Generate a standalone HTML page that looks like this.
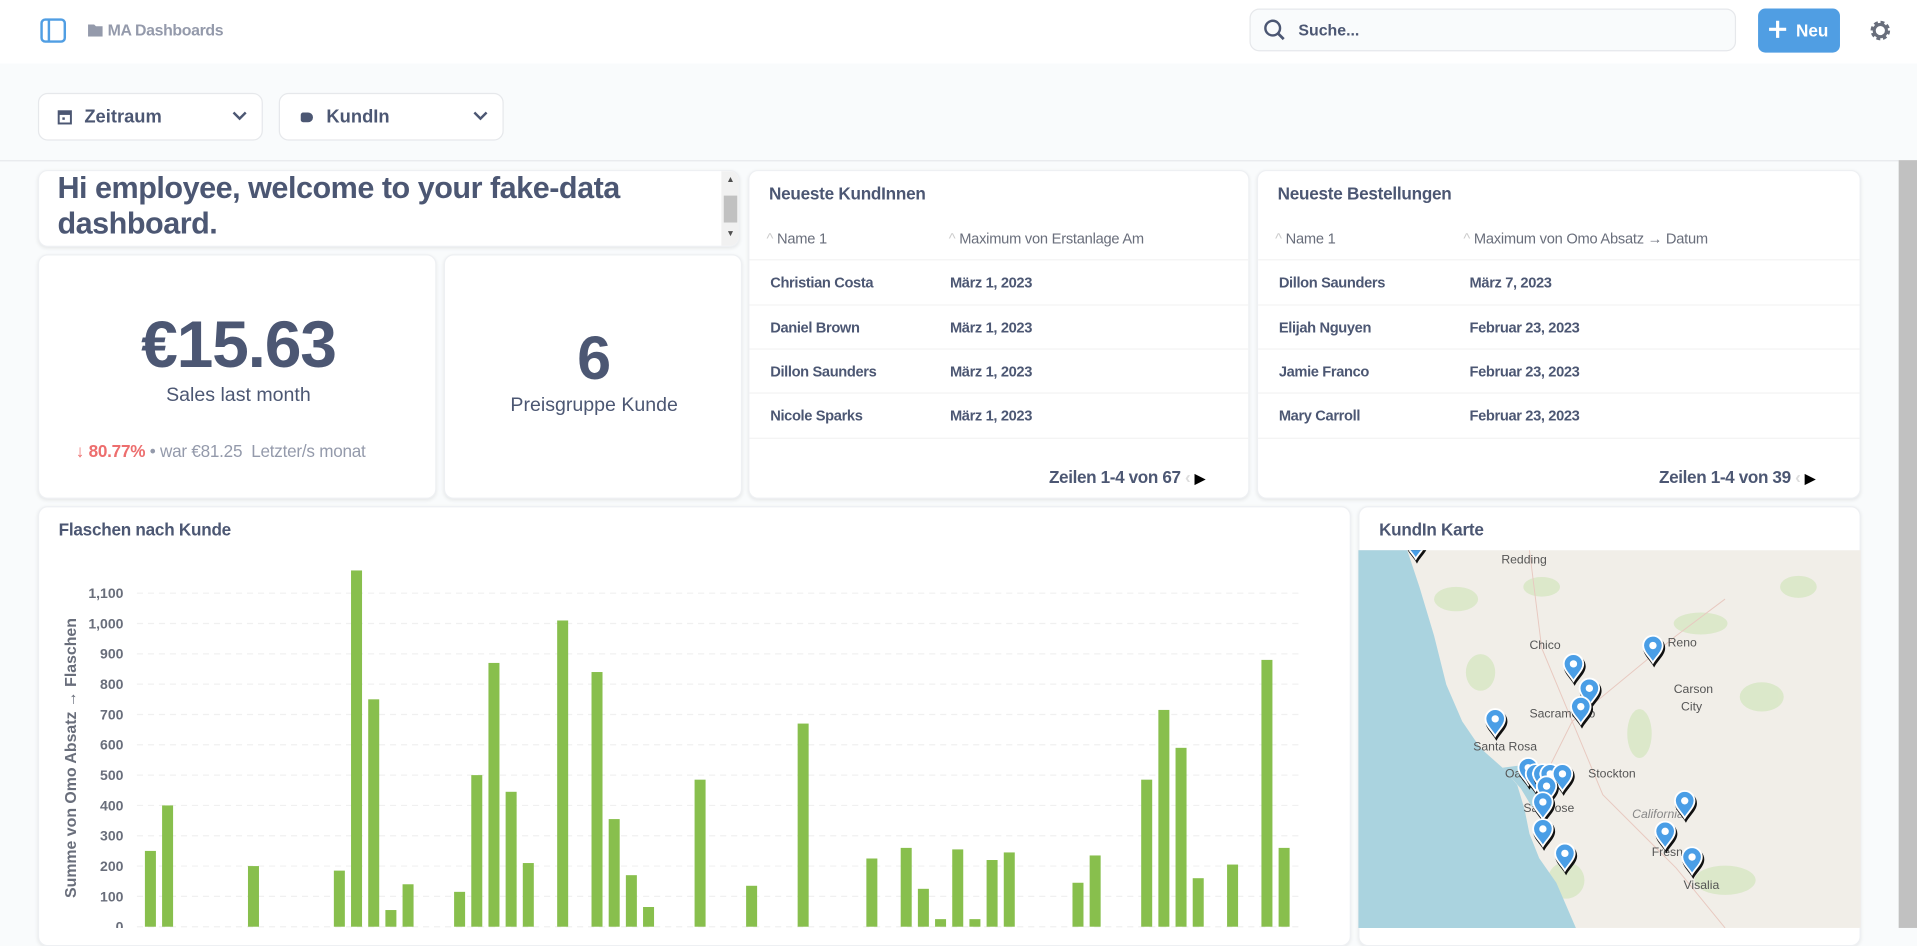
<!DOCTYPE html>
<html><head><meta charset="utf-8">
<style>
html,body{margin:0;padding:0;width:1917px;height:928px;overflow:hidden;background:#f9fbfc;font-family:"Liberation Sans",sans-serif;color:#4c5773}
#wrap{position:absolute;left:0;top:0;width:1568px;height:759px;transform:scale(1.22258);transform-origin:0 0;background:#f9fbfc}
.abs{position:absolute}
.card{position:absolute;background:#fff;border-radius:8px;box-shadow:0 1px 3px rgba(0,0,0,0.08);border:1px solid #eef0f3;box-sizing:border-box;overflow:hidden}
.ctitle{position:absolute;font-size:14px;font-weight:bold;color:#4c5773;letter-spacing:-0.2px}
.th{position:absolute;font-size:12px;color:#696e7b;letter-spacing:-0.2px}
.td{position:absolute;font-size:12px;color:#4c5773;font-weight:bold;letter-spacing:-0.3px}
.rowline{position:absolute;height:1px;background:#f3f3f3}
.filter{position:absolute;top:76px;width:184px;height:39px;background:#fff;border:1px solid #e6e8eb;border-radius:8px;box-sizing:border-box;font-size:15px;font-weight:bold;color:#4c5773}
.chev{position:absolute;left:158px;top:13px}
</style></head><body>
<div id="wrap">
<div class="abs" style="left:0;top:0;width:1568px;height:52px;background:#fff"></div>
<svg class="abs" style="left:32px;top:14px" width="24" height="22"><rect x="2" y="2" width="19" height="18" rx="3" fill="none" stroke="#509ee3" stroke-width="2"/><line x1="8" y1="2" x2="8" y2="20" stroke="#509ee3" stroke-width="2"/></svg>
<svg class="abs" style="left:72px;top:19px" width="12" height="11"><path d="M0 1h5l1.5 1.5H12V11H0z" fill="#949aab"/></svg>
<div class="abs" style="left:88px;top:17px;font-size:13px;color:#949aab;font-weight:bold;letter-spacing:-0.3px">MA Dashboards</div>
<div class="abs" style="left:1022px;top:7px;width:398px;height:35px;border:1px solid #e6e8eb;border-radius:8px;background:#f9fbfc;box-sizing:border-box"></div>
<svg class="abs" style="left:1033px;top:15px" width="20" height="20"><circle cx="8" cy="8" r="6" fill="none" stroke="#4c5773" stroke-width="2"/><line x1="12.5" y1="12.5" x2="17" y2="17" stroke="#4c5773" stroke-width="2.2"/></svg>
<div class="abs" style="left:1062px;top:17px;font-size:13px;color:#4c5773;font-weight:bold">Suche...</div>
<div class="abs" style="left:1438px;top:7px;width:67px;height:36px;background:#509ee3;border-radius:6px;color:#fff;font-size:14px;font-weight:bold;line-height:36px;box-sizing:border-box;padding-left:31px">Neu</div>
<svg class="abs" style="left:1446px;top:16px" width="16" height="16"><path d="M8 1v14M1 8h14" stroke="#fff" stroke-width="2.6"/></svg>
<svg class="abs" style="left:1528px;top:15px" width="20" height="20"><circle cx="10" cy="10" r="6.5" fill="none" stroke="#696e7b" stroke-width="3" stroke-dasharray="3,2.1"/><circle cx="10" cy="10" r="5" fill="none" stroke="#696e7b" stroke-width="2.5"/></svg>
<div class="filter" style="left:31px"><svg style="position:absolute;left:15px;top:12px" width="12" height="13"><rect x="1" y="2" width="10" height="10" fill="none" stroke="#4c5773" stroke-width="1.6"/><rect x="1" y="2" width="10" height="3" fill="#4c5773"/><rect x="4" y="7" width="2" height="2" fill="#4c5773"/></svg><span style="position:absolute;left:37px;top:10px">Zeitraum</span><svg class="chev" width="12" height="10"><path d="M1 2l5 5 5-5" fill="none" stroke="#4c5773" stroke-width="2"/></svg></div>
<div class="filter" style="left:228px"><span style="position:absolute;left:17px;top:15px;width:10px;height:8px;background:#4c5773;border-radius:2px 4px 4px 2px"></span><span style="position:absolute;left:38px;top:10px">KundIn</span><svg class="chev" width="12" height="10"><path d="M1 2l5 5 5-5" fill="none" stroke="#4c5773" stroke-width="2"/></svg></div>
<div class="abs" style="left:0;top:131px;width:1553px;height:1px;background:#e6e8eb"></div>
<div class="abs" style="left:1553px;top:131px;width:15px;height:628px;background:#c1c1c1"></div>

<div class="card" style="left:31px;top:139px;width:574px;height:63px">
 <div class="abs" style="left:15px;top:0px;font-size:25px;font-weight:bold;line-height:29px;color:#4c5773;width:560px;letter-spacing:-0.4px">Hi employee, welcome to your fake-data dashboard.</div>
 <div class="abs" style="left:558px;top:0;width:15px;height:63px;background:#f1f1f1"><div style="position:absolute;left:2px;top:20px;width:11px;height:22px;background:#c1c1c1"></div><div style="position:absolute;left:4px;top:4px;font-size:7px;color:#505050">▲</div><div style="position:absolute;left:4px;top:48px;font-size:7px;color:#505050">▼</div></div>
</div>
<div class="card" style="left:31px;top:208px;width:326px;height:200px">
 <div class="abs" style="left:0;width:326px;top:42px;text-align:center;font-size:54px;font-weight:bold;color:#4c5773;letter-spacing:-1px">€15.63</div>
 <div class="abs" style="left:0;width:326px;top:106px;text-align:center;font-size:16px">Sales last month</div>
 <div class="abs" style="left:30px;top:152px;font-size:14px;white-space:nowrap;letter-spacing:-0.2px"><span style="color:#ed6e6e;font-weight:bold">↓ 80.77%</span><span style="color:#949aab"> • war €81.25 &nbsp;Letzter/s monat</span></div>
</div>
<div class="card" style="left:363px;top:208px;width:244px;height:200px">
 <div class="abs" style="left:0;width:244px;top:55px;text-align:center;font-size:50px;font-weight:bold">6</div>
 <div class="abs" style="left:0;width:244px;top:114px;text-align:center;font-size:16px">Preisgruppe Kunde</div>
</div>
<div class="card" style="left:612px;top:139px;width:410px;height:269px">
 <div class="ctitle" style="left:16px;top:10px">Neueste KundInnen</div>
 <div class="th" style="left:14px;top:48px"><span style="color:#ccc">^</span> Name 1</div>
 <div class="th" style="left:163px;top:48px"><span style="color:#ccc">^</span> Maximum von Erstanlage Am</div>
 <div class="rowline" style="left:0;top:72px;width:410px"></div>
 <div class="td" style="left:17px;top:84px">Christian Costa</div><div class="td" style="left:164px;top:84px">März 1, 2023</div>
 <div class="rowline" style="left:0;top:109px;width:410px"></div>
 <div class="td" style="left:17px;top:121px">Daniel Brown</div><div class="td" style="left:164px;top:121px">März 1, 2023</div>
 <div class="rowline" style="left:0;top:145px;width:410px"></div>
 <div class="td" style="left:17px;top:157px">Dillon Saunders</div><div class="td" style="left:164px;top:157px">März 1, 2023</div>
 <div class="rowline" style="left:0;top:181px;width:410px"></div>
 <div class="td" style="left:17px;top:193px">Nicole Sparks</div><div class="td" style="left:164px;top:193px">März 1, 2023</div>
 <div class="rowline" style="left:0;top:218px;width:410px"></div>
 <div class="abs" style="left:245px;top:242px;font-size:14px;font-weight:bold;letter-spacing:-0.3px">Zeilen 1-4 von 67 <span style="color:#ddd">‹</span> <span style="color:#000;font-size:11px">▶</span></div>
</div>
<div class="card" style="left:1028px;top:139px;width:494px;height:269px">
 <div class="ctitle" style="left:16px;top:10px">Neueste Bestellungen</div>
 <div class="th" style="left:14px;top:48px"><span style="color:#ccc">^</span> Name 1</div>
 <div class="th" style="left:168px;top:48px"><span style="color:#ccc">^</span> Maximum von Omo Absatz → Datum</div>
 <div class="rowline" style="left:0;top:72px;width:494px"></div>
 <div class="td" style="left:17px;top:84px">Dillon Saunders</div><div class="td" style="left:173px;top:84px">März 7, 2023</div>
 <div class="rowline" style="left:0;top:109px;width:494px"></div>
 <div class="td" style="left:17px;top:121px">Elijah Nguyen</div><div class="td" style="left:173px;top:121px">Februar 23, 2023</div>
 <div class="rowline" style="left:0;top:145px;width:494px"></div>
 <div class="td" style="left:17px;top:157px">Jamie Franco</div><div class="td" style="left:173px;top:157px">Februar 23, 2023</div>
 <div class="rowline" style="left:0;top:181px;width:494px"></div>
 <div class="td" style="left:17px;top:193px">Mary Carroll</div><div class="td" style="left:173px;top:193px">Februar 23, 2023</div>
 <div class="rowline" style="left:0;top:218px;width:494px"></div>
 <div class="abs" style="left:328px;top:242px;font-size:14px;font-weight:bold;letter-spacing:-0.3px">Zeilen 1-4 von 39 <span style="color:#ddd">‹</span> <span style="color:#000;font-size:11px">▶</span></div>
</div>
<div class="card" style="left:31px;top:414px;width:1074px;height:360px">
 <div class="ctitle" style="left:16px;top:10px">Flaschen nach Kunde</div>
</div>
<svg class="abs" id="chart" style="left:0;top:0" width="1105" height="759"></svg>
<div class="card" style="left:1111px;top:414px;width:411px;height:360px">
 <div class="ctitle" style="left:16px;top:10px">KundIn Karte</div>
</div>
<svg class="abs" style="left:1111px;top:450px" width="411" height="309">
 <rect width="411" height="309" fill="#f1eee8"/>
 <g fill="#d4e6c0" opacity="0.75">
  <ellipse cx="80" cy="40" rx="18" ry="10"/><ellipse cx="150" cy="30" rx="15" ry="8"/><ellipse cx="280" cy="60" rx="22" ry="9"/><ellipse cx="330" cy="120" rx="18" ry="12"/><ellipse cx="360" cy="30" rx="15" ry="9"/><ellipse cx="230" cy="150" rx="10" ry="20"/><ellipse cx="300" cy="270" rx="25" ry="12"/><ellipse cx="170" cy="270" rx="15" ry="15"/><ellipse cx="100" cy="100" rx="12" ry="15"/>
 </g>
 <g stroke="#e8c9c0" stroke-width="0.8" fill="none"><path d="M140 0 L150 80 L175 140 L200 200 L260 260 L300 309"/><path d="M175 140 L260 70 L300 40"/><path d="M175 140 L150 190"/></g>
 <path d="M0 0 H40 L50 30 L62 70 L72 110 L85 140 L100 162 L118 178 L130 192 L136 212 L140 232 L148 252 L162 272 L178 309 H0 Z" fill="#aad3df"/>
 <path d="M118 178 L140 175 L150 195 L142 210 L133 195 Z" fill="#aad3df"/>
 <g font-family="Liberation Sans,sans-serif" font-size="10" fill="#555">
  <text x="117" y="11">Redding</text><text x="140" y="81">Chico</text><text x="253" y="79">Reno</text><text x="258" y="117">Carson</text><text x="264" y="131">City</text><text x="140" y="137">Sacramento</text><text x="94" y="164">Santa Rosa</text><text x="188" y="186">Stockton</text><text x="120" y="186">Oakland</text><text x="135" y="214">San Jose</text><text x="224" y="219" font-style="italic" fill="#888">California</text><text x="240" y="250">Fresno</text><text x="266" y="277">Visalia</text>
 </g>
 <g id="pins"></g>
</svg>
</div>
<script>
const categories = Array.from({length:67},(_,i)=>'Kunde '+(i+1));
const barIdx = [0,1,6,11,12,13,14,15,18,19,20,21,22,24,26,27,28,29,32,35,38,42,44,45,46,47,48,49,50,54,55,58,59,60,61,63,65,66];
const barVals = [250,400,200,185,1175,750,55,140,115,500,870,445,210,1010,840,355,170,65,485,135,670,225,260,125,25,255,25,220,245,145,235,485,715,590,160,205,880,260];
const tickVals = [0,100,200,300,400,500,600,700,800,900,1000,1100];
const tickLabels = ['0','100','200','300','400','500','600','700','800','900','1,000','1,100'];
const values = categories.map(()=>0);
barIdx.forEach((k,j)=>{values[k]=barVals[j];});

const NS='http://www.w3.org/2000/svg';
const svg=document.getElementById('chart');
const y0=758, pxPer=0.248, left=116, slot=14.05, bw=9;
const yS=v=>y0-v*pxPer;
const xS=i=>left+slot*(i+0.5);
tickVals.forEach((t,i)=>{
  const l=document.createElementNS(NS,'line');
  
  
  l.setAttribute('x1',112);l.setAttribute('x2',1062);l.setAttribute('y1',yS(t));l.setAttribute('y2',yS(t));
  l.setAttribute('stroke','#f0f0f0');l.setAttribute('stroke-dasharray','5,4');
  svg.appendChild(l);
  const tx=document.createElementNS(NS,'text');
  
  
  tx.setAttribute('x',101);tx.setAttribute('y',yS(t)+4);tx.setAttribute('text-anchor','end');
  tx.setAttribute('font-size','11.5');tx.setAttribute('font-weight','bold');tx.setAttribute('fill','#696e7b');
  tx.setAttribute('font-family','Liberation Sans,sans-serif');
  tx.textContent=tickLabels[i];svg.appendChild(tx);
});
values.forEach((v,i)=>{
  if(!v) return;
  const r=document.createElementNS(NS,'rect');
  
  
  r.setAttribute('x',xS(i)-bw/2);r.setAttribute('width',bw);
  r.setAttribute('y',yS(v));r.setAttribute('height',v*pxPer);
  r.setAttribute('fill','#88bf4d');
  svg.appendChild(r);
});
const yt=document.createElementNS(NS,'text');


yt.setAttribute('transform','translate(62,620) rotate(-90)');
yt.setAttribute('text-anchor','middle');yt.setAttribute('font-size','13');yt.setAttribute('font-weight','bold');
yt.setAttribute('fill','#696e7b');yt.setAttribute('font-family','Liberation Sans,sans-serif');
yt.textContent='Summe von Omo Absatz → Flaschen';svg.appendChild(yt);

const pinX=[47,176,241,189,182,112,139,145,151,157,167,154,151,151,169,267,251,273];
const pinY=[-5,95,80,115,130,140,180,185,185,185,185,195,208,230,250,207,232,253];
const pg=document.getElementById('pins');
pinX.forEach((x,i)=>{
  const g=document.createElementNS(NS,'g');
  
  
  g.setAttribute('transform','translate('+x+','+pinY[i]+')');
  g.innerHTML='<path d="M0 14 C-3 8 -9 4 -9 -2 A9 9 0 0 1 9 -2 C9 4 3 8 0 14Z" fill="#111" transform="translate(1,2)"/><path d="M0 12 C-3 7 -8 3 -8 -2 A8 8 0 0 1 8 -2 C8 3 3 7 0 12Z" fill="#4a9ee6" stroke="#fff" stroke-width="1.5"/><circle cx="0" cy="-2" r="3" fill="#fff"/>';
  pg.appendChild(g);
});
</script>
</body></html>
